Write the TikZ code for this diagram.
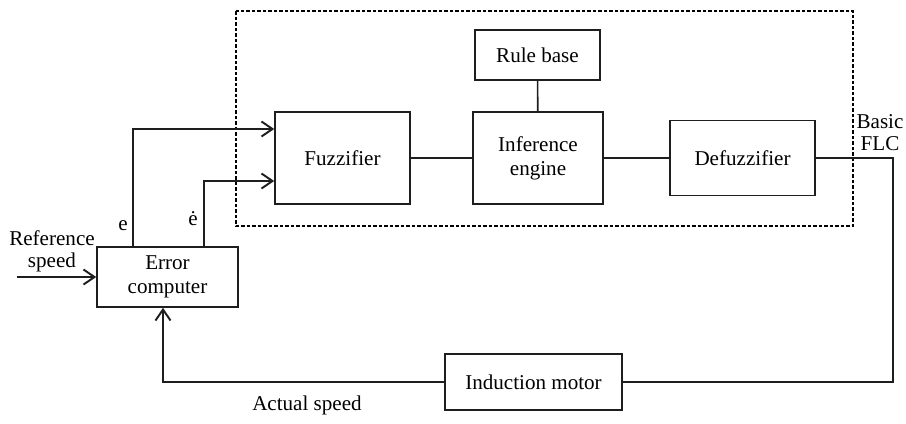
\documentclass[tikz,border=0pt]{standalone}
\usepackage{fontspec}
\setmainfont{Liberation Serif}
\usepackage{tikz}
\usetikzlibrary{positioning, arrows.meta, calc}
\definecolor{flcLine}{RGB}{30, 30, 30}

\begin{document}
\begin{tikzpicture}[x=0.2mm, y=-0.2mm,
          nd/.style={draw=flcLine, line width=0.9pt, align=center,
                     inner sep=0pt, font=\fontsize{12}{13.5}\selectfont},
          lbl/.style={align=center, inner sep=0pt, font=\fontsize{12}{12.5}\selectfont},
          arr/.style={-{Straight Barb[length=2.2mm, width=3mm, line width=1.1pt]},
                      line width=0.9pt, draw=flcLine},
          wire/.style={line width=0.9pt, draw=flcLine}]
        \useasboundingbox (0,0) rectangle (906,423);
        % basic FLC frame
        \draw[line width=0.7pt, dash pattern=on 0.07cm off 0.04cm] (236,11) rectangle (853,226);
        \node[nd, minimum width=2.5cm, minimum height=1.0cm] (rules) at (537.5,55) {Rule base};
        \node[nd, minimum width=2.7cm, minimum height=1.84cm] (fuzz) at (342.5,158) {Fuzzifier};
        \node[nd, minimum width=2.6cm, minimum height=1.84cm] (infer) at (538,158) {Inference\\engine};
        \node[nd, minimum width=2.9cm, minimum height=1.5cm] (defuzz) at (742.5,158) {Defuzzifier};
        \node[nd, minimum width=2.82cm, minimum height=1.2cm] (errc) at (167.5,277) {Error\\computer};
        \node[nd, minimum width=3.54cm, minimum height=1.12cm] (motor) at (533.5,382) {Induction motor};
        % labels
        \node[lbl] (lblE)   at (123,226) {e};
        \node[lbl] (lblDE)  at (193,219) {\.{e}};
        \node[lbl] (lblRef) at (52,251)  {Reference\\speed};
        \node[lbl] (lblAct) at (307,405) {Actual speed};
        \node[lbl] (lblFLC) at (880,133) {Basic\\FLC};
        % signal paths
        \coordinate (ref) at (17,277);
        \coordinate (fb) at (893,382);
        \draw[arr] (ref) -- (errc.west);
        \draw[arr] ([xshift=-0.69cm]errc.north) |- ([yshift=0.58cm]fuzz.west);
        \draw[arr] ([xshift=0.73cm]errc.north) |- ([yshift=-0.46cm]fuzz.west);
        \draw[wire] (fuzz) -- (infer);
        \draw[wire] (infer) -- (defuzz);
        \draw[wire] (rules) -- (infer);
        \draw[wire] (defuzz.east) -| (fb) -- (motor.east);
        \draw[arr] (motor.west) -| ([xshift=-0.09cm]errc.south);
      \end{tikzpicture}
\end{document}
